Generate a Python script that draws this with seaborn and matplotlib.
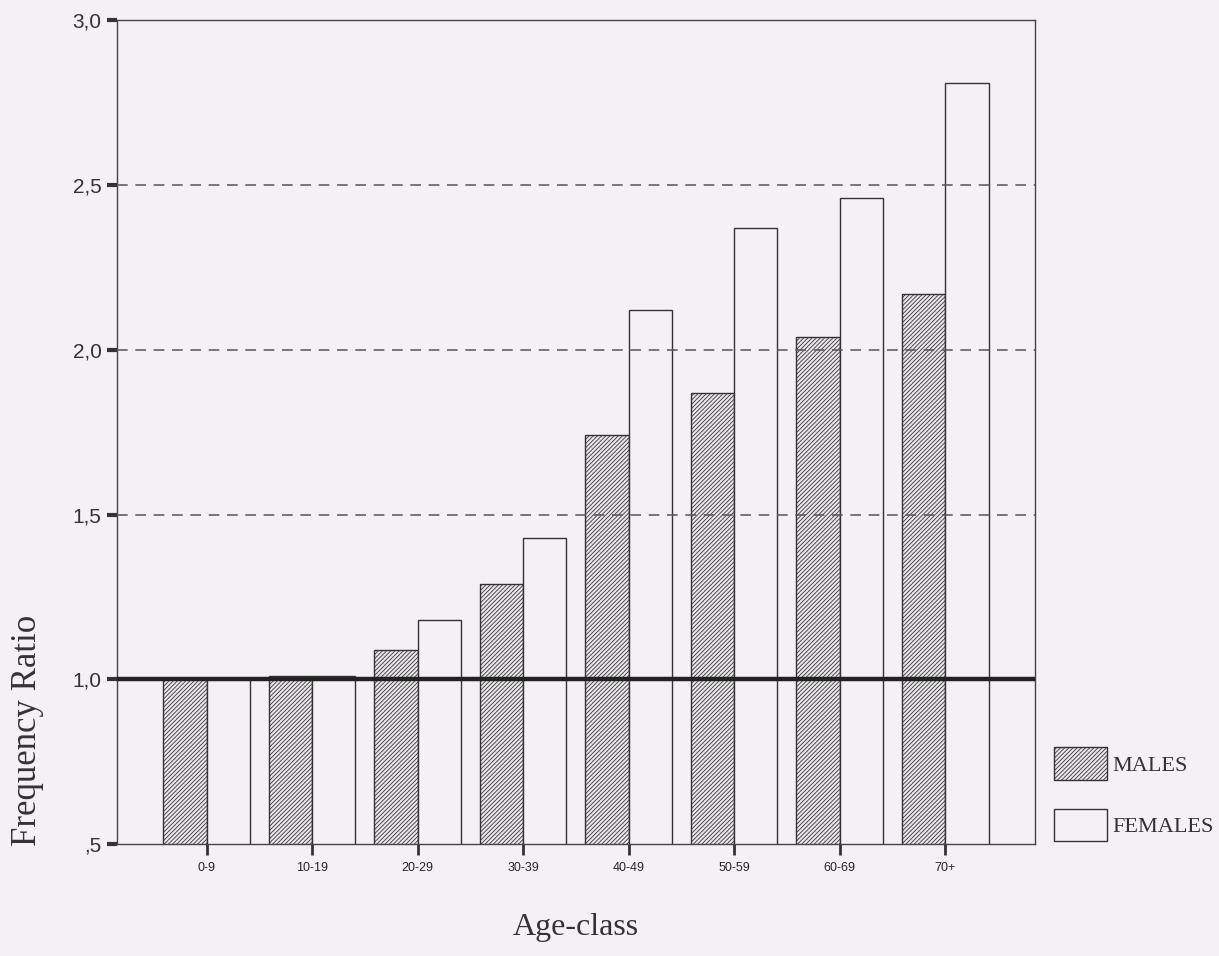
import matplotlib
matplotlib.use("Agg")
import matplotlib.pyplot as plt
import matplotlib.patches as mpatches
import seaborn as sns
import pandas as pd

# values
age_classes = ["0-9", "10-19", "20-29", "30-39", "40-49", "50-59", "60-69", "70+"]
males = [1.00, 1.01, 1.09, 1.29, 1.74, 1.87, 2.04, 2.17]
females = [1.00, 1.01, 1.18, 1.43, 2.12, 2.37, 2.46, 2.81]
y_ticks = [0.5, 1.0, 1.5, 2.0, 2.5, 3.0]
y_tick_labels = [",5", "1,0", "1,5", "2,0", "2,5", "3,0"]

df = pd.DataFrame({
    "age": age_classes * 2,
    "ratio": males + females,
    "sex": ["MALES"] * len(males) + ["FEMALES"] * len(females),
})

paper = "#f4f1f4"
sns.set_style("white")
plt.rcParams["font.family"] = ["Liberation Sans", "DejaVu Sans"]
plt.rcParams["hatch.linewidth"] = 0.6
plt.rcParams["hatch.color"] = "#555555"

fig = plt.figure(figsize=(12.19, 9.56), dpi=100, facecolor=paper)
ax = fig.add_axes([0.096, 0.117, 0.753, 0.862])
ax.set_facecolor(paper)

sns.barplot(data=df, x="age", y="ratio", hue="sex", order=age_classes,
            hue_order=["MALES", "FEMALES"], palette=["#ffffff", "#ffffff"],
            width=0.82, edgecolor="#333333", linewidth=1.0, ax=ax,
            legend=False, errorbar=None)

n = len(age_classes)
for i, p in enumerate(ax.patches):
    if i < n:
        p.set_facecolor("#ebe8eb")
        p.set_hatch("////////")
    else:
        p.set_facecolor(paper)

for y in [1.5, 2.0, 2.5]:
    ax.axhline(y, color="#555555", lw=1.1, ls=(0, (7, 5)), zorder=5)
ax.axhline(1.0, color="#222222", lw=3.2, zorder=6)

ax.set_ylim(0.5, 3.0)
ax.set_xlim(-0.85, n - 1 + 0.85)
ax.set_yticks(y_ticks)
ax.set_yticklabels(y_tick_labels, fontsize=15, color="#333333")
ax.tick_params(axis="y", direction="out", length=7, width=3, color="#333333", pad=4, left=True)
ax.tick_params(axis="x", direction="out", length=8, width=2, color="#333333", labelsize=9, pad=5, bottom=True)

for s in ax.spines.values():
    s.set_color("#444444")
    s.set_linewidth(1.0)

ax.set_xlabel("Age-class", family="Liberation Serif", fontsize=23, color="#333333", labelpad=28)
ax.set_ylabel("Frequency Ratio", family="Liberation Serif", fontsize=25, color="#333333")
ax.yaxis.set_label_coords(-0.08, 0.138)

handles = [
    mpatches.Patch(facecolor="#ebe8eb", edgecolor="#333333", hatch="////////", label="MALES"),
    mpatches.Patch(facecolor=paper, edgecolor="#333333", label="FEMALES"),
]
fig.legend(handles=handles, loc="lower left", bbox_to_anchor=(0.848, 0.099),
           frameon=False, prop={"family": "Liberation Serif", "size": 16},
           handlelength=2.39, handleheight=1.88, labelspacing=1.3, handletextpad=0.27,
           borderpad=0.4, labelcolor="#333333")

fig.savefig("out.png", dpi=100, facecolor=paper)
